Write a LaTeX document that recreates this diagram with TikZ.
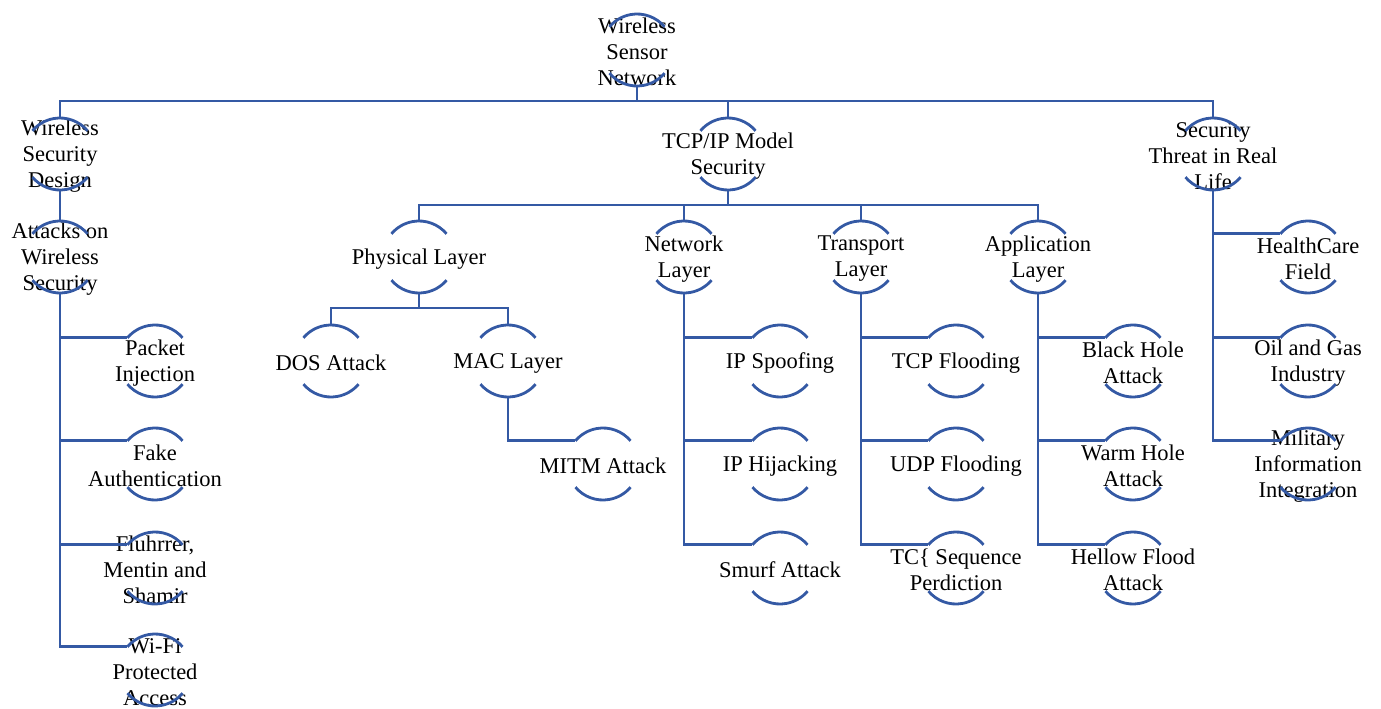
\documentclass[tikz,border=0pt]{standalone}
\usepackage{fontspec}
\setmainfont{Liberation Serif}
\definecolor{wsnblue}{RGB}{52,89,164}

\begin{document}
\begin{tikzpicture}[x=1pt, y=-1pt,
  wire/.style={draw=wsnblue, line width=2.8pt},
  ring/.style={circle, minimum size=72pt, inner sep=0pt, outer sep=0pt,
    label={[font=\fontsize{22.5}{26}\selectfont, align=center, inner sep=0pt, yshift=-2pt]center:#1}}]
\useasboundingbox (0,0) rectangle (1381,709);

\path
(637, 50) node[ring={Wireless\\Sensor\\Network}](wsn){}
(60, 154) node[ring={Wireless\\Security\\Design}](wsd){}
(728, 154) node[ring={TCP/IP Model\\Security}](tcp){}
(1213, 154) node[ring={Security\\Threat in Real\\Life}](str){}
(60, 257) node[ring={Attacks on\\Wireless\\Security}](aws){}
(419, 257) node[ring={Physical Layer}](phy){}
(684, 257) node[ring={Network\\Layer}](net){}
(861, 257) node[ring={Transport\\Layer}](tra){}
(1038, 257) node[ring={Application\\Layer}](app){}
(1308, 257) node[ring={HealthCare\\Field}](hcf){}
(155, 361) node[ring={Packet\\Injection}](pkt){}
(155, 464) node[ring={Fake\\Authentication}](fake){}
(155, 568) node[ring={Fluhrrer,\\Mentin and\\Shamir}](fms){}
(155, 670) node[ring={Wi-Fi\\Protected\\Access}](wpa){}
(331, 361) node[ring={DOS Attack}](dos){}
(508, 361) node[ring={MAC Layer}](mac){}
(603, 464) node[ring={MITM Attack}](mitm){}
(780, 361) node[ring={IP Spoofing}](ips){}
(780, 464) node[ring={IP Hijacking}](iph){}
(780, 568) node[ring={Smurf Attack}](smurf){}
(956, 361) node[ring={TCP Flooding}](tcpf){}
(956, 464) node[ring={UDP Flooding}](udpf){}
(956, 568) node[ring={TC\{ Sequence\\Perdiction}](tcps){}
(1133, 361) node[ring={Black Hole\\Attack}](bha){}
(1133, 464) node[ring={Warm Hole\\Attack}](wha){}
(1133, 568) node[ring={Hellow Flood\\Attack}](hfa){}
(1308, 361) node[ring={Oil and Gas\\Industry}](oil){}
(1308, 464) node[ring={Military\\Information\\Integration}](mil){};

% tree connectors
\draw[wire] (wsn.south) -- ++(0,15) -| (wsd.north);
\draw[wire] (wsn.south) -- ++(0,15) -| (tcp.north);
\draw[wire] (wsn.south) -- ++(0,15) -| (str.north);
\draw[wire] (wsd.south) -- (aws.north);
\foreach \c in {phy,net,tra,app}
  \draw[wire] (tcp.south) -- ++(0,15) -| (\c.north);
\foreach \c in {dos,mac}
  \draw[wire] (phy.south) -- ++(0,15) -| (\c.north);

% side lists
\foreach \c in {pkt,fake,fms,wpa}
  \draw[wire] (aws.south) |- (\c.140);
\draw[wire] (mac.south) |- (mitm.140);
\foreach \c in {ips,iph,smurf}
  \draw[wire] (net.south) |- (\c.140);
\foreach \c in {tcpf,udpf,tcps}
  \draw[wire] (tra.south) |- (\c.140);
\foreach \c in {bha,wha,hfa}
  \draw[wire] (app.south) |- (\c.140);
\foreach \c in {hcf,oil,mil}
  \draw[wire] (str.south) |- (\c.140);

% arcs round every topic
\foreach \n in {wsn,wsd,tcp,str,aws,phy,net,tra,app,hcf,pkt,fake,fms,wpa,dos,mac,mitm,ips,iph,smurf,tcpf,udpf,tcps,bha,wha,hfa,oil,mil}
  \draw[wire] (\n.40) arc[start angle=40, end angle=140, radius=36pt]
              (\n.220) arc[start angle=220, end angle=320, radius=36pt];

\end{tikzpicture}
\end{document}
